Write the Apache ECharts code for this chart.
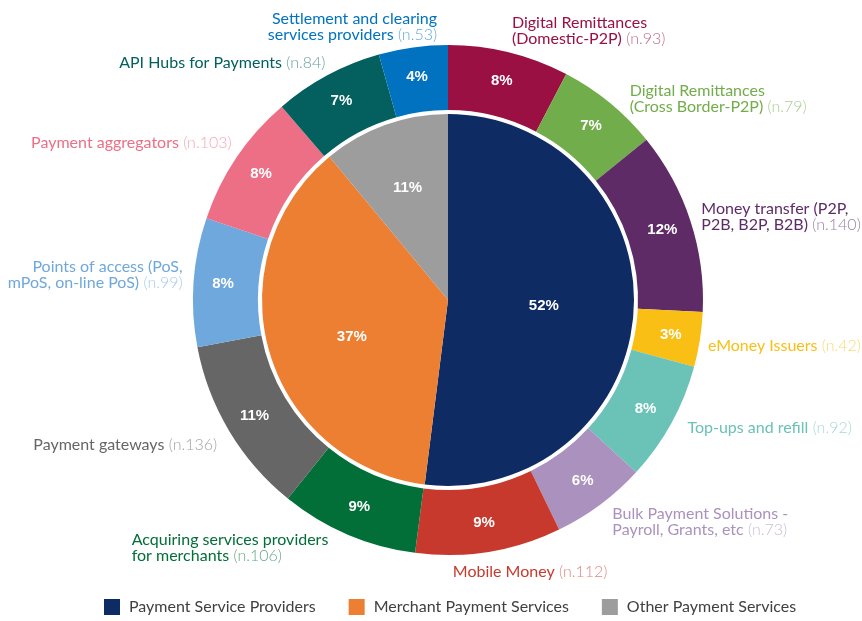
<!DOCTYPE html>
<html>
<head>
<meta charset="utf-8">
<script src="https://cdn.jsdelivr.net/npm/echarts@6/dist/echarts.min.js"></script>
<style>
  html, body { margin: 0; padding: 0; background: #ffffff; }
  #chart { width: 862px; height: 621px; }
</style>
</head>
<body>
<div id="chart"></div>
<script>
// Provider categories (outer ring), clockwise from 12 o'clock
const categories = [
  'Digital Remittances\n(Domestic-P2P)',
  'Digital Remittances\n(Cross Border-P2P)',
  'Money transfer (P2P,\nP2B, B2P, B2B)',
  'eMoney Issuers',
  'Top-ups and refill',
  'Bulk Payment Solutions -\nPayroll, Grants, etc',
  'Mobile Money',
  'Acquiring services providers\nfor merchants',
  'Payment gateways',
  'Points of access (PoS,\nmPoS, on-line PoS)',
  'Payment aggregators',
  'API Hubs for Payments',
  'Settlement and clearing\nservices providers'
];
// Number of respondents per category (n.)
const counts = [93, 79, 140, 42, 92, 73, 112, 106, 136, 99, 103, 84, 53];

// Service groups (inner pie) and their shares in percent
const groups = ['Payment Service Providers', 'Merchant Payment Services', 'Other Payment Services'];
const groupShares = [52, 37, 11];

// Colours
const groupColors = ['#0e2b63', '#ed7f33', '#9d9d9d'];
const categoryColors = [
  '#9a1042', '#71ad4a', '#5e2b67', '#f9bf14', '#6bc2b7', '#ab91be', '#c8392d',
  '#016f37', '#666666', '#6fa8dc', '#ec6f86', '#03605f', '#0172c0'
];

// Label placement around the ring: offset from the slice's outer mid point and text alignment
const labelOffsets = [
  [3, -22, 'left'], [20, -4, 'left'], [11, -4, 'left'], [8, 6, 'left'],
  [16, 5, 'left'], [12, 17, 'left'], [-36, 20, 'left'], [-216, 13, 'left'],
  [-12, 14, 'right'], [-11, -7, 'right'], [-5, -15, 'right'], [-2, -12, 'right'],
  [24, -21, 'right']
];

const CX = 448, CY = 300, R_OUT = 255, R_IN = 190, R_PIE = 186;

function tint(hex, t) {
  const n = parseInt(hex.slice(1), 16);
  const r = (n >> 16) & 255, g = (n >> 8) & 255, b = n & 255;
  const m = c => Math.round(c + (255 - c) * t);
  return 'rgb(' + m(r) + ',' + m(g) + ',' + m(b) + ')';
}

// mid angle (degrees, clockwise from top) of each outer slice
const total = counts.reduce((a, b) => a + b, 0);
const midAngles = [];
(function () {
  let acc = 0;
  counts.forEach(v => { midAngles.push((acc + v / 2) / total * 360); acc += v; });
})();

const ringData = categories.map((name, i) => ({
  name: name,
  value: counts[i],
  itemStyle: { color: categoryColors[i] }
}));

const textData = categories.map((name, i) => ({
  name: name,
  value: counts[i],
  label: {
    rich: {
      t: { color: categoryColors[i], fontFamily: 'Lato', fontSize: 16, lineHeight: 16 },
      n: { color: tint(categoryColors[i], 0.4), fontFamily: 'Lato', fontWeight: 300, fontSize: 16, lineHeight: 16 }
    }
  }
}));

const chart = echarts.init(document.getElementById('chart'), null, { renderer: 'canvas' });

chart.setOption({
  backgroundColor: '#ffffff',
  animation: false,
  legend: {
    data: groups,
    top: 599,
    left: 104,
    padding: 0,
    icon: 'rect',
    itemWidth: 16,
    itemHeight: 16,
    itemGap: 33,
    textStyle: { fontFamily: 'Lato', fontSize: 16, color: '#404040', padding: [0, 0, 0, 4] }
  },
  series: [
    {
      // inner pie: service groups
      type: 'pie',
      center: [CX, CY],
      radius: [0, R_PIE],
      startAngle: 90,
      clockwise: true,
      silent: true,
      data: groups.map((g, i) => ({
        name: g,
        value: groupShares[i],
        itemStyle: { color: groupColors[i] },
        label: i === 2 ? { offset: [-8, -22] } : (i === 1 ? { offset: [-4, 10] } : {})
      })),
      label: {
        position: 'inside',
        formatter: p => p.value + '%',
        color: '#ffffff',
        fontFamily: 'Liberation Sans',
        fontWeight: 'bold',
        fontSize: 15
      },
      labelLine: { show: false }
    },
    {
      // outer ring: categories with percentage labels
      type: 'pie',
      center: [CX, CY],
      radius: [R_IN, R_OUT],
      startAngle: 90,
      clockwise: true,
      silent: true,
      percentPrecision: 0,
      data: ringData,
      label: {
        position: 'inside',
        formatter: '{d}%',
        color: '#ffffff',
        fontFamily: 'Liberation Sans',
        fontWeight: 'bold',
        fontSize: 15
      },
      labelLine: { show: false }
    },
    {
      // category names around the ring
      type: 'pie',
      center: [CX, CY],
      radius: [R_IN, R_OUT],
      startAngle: 90,
      clockwise: true,
      silent: true,
      data: textData,
      itemStyle: { color: 'rgba(0,0,0,0)' },
      label: {
        position: 'outside',
        overflow: 'none',
        width: 400,
        formatter: p => {
          const lines = p.name.split('\n');
          return lines.map((ln, k) =>
            k === lines.length - 1 ? '{t|' + ln + '}{n| (n.' + p.value + ')}' : '{t|' + ln + '}'
          ).join('\n');
        }
      },
      labelLine: { show: false },
      labelLayout: p => {
        const i = p.dataIndex;
        const a = midAngles[i] * Math.PI / 180;
        const ax = CX + R_OUT * Math.sin(a);
        const ay = CY - R_OUT * Math.cos(a);
        const o = labelOffsets[i];
        return { x: ax + o[0], y: ay + o[1], align: o[2], verticalAlign: 'middle', hideOverlap: false };
      }
    }
  ]
});
</script>
</body>
</html>
